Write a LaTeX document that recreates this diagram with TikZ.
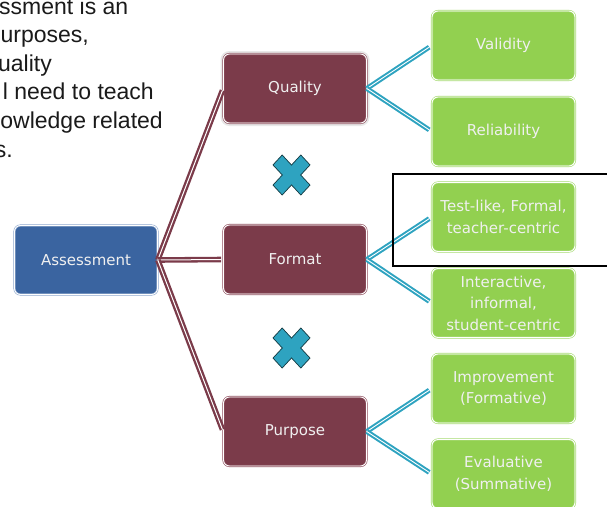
\documentclass[tikz,border=0pt]{standalone}
\usepackage{fontspec}
\setmainfont{Liberation Sans}
\newfontfamily\boxfont{DejaVu Sans}
\definecolor{bluebox}{HTML}{3A64A0}
\definecolor{bluerim}{HTML}{8FA8CC}
\definecolor{maroon}{HTML}{7B3B4A}
\definecolor{maroonrim}{HTML}{8E4F5E}
\definecolor{greenbox}{HTML}{92D050}
\definecolor{greenrim}{HTML}{A6DA72}
\definecolor{teal}{HTML}{2EA3C0}
\definecolor{tealdark}{HTML}{123840}
\definecolor{bodytext}{HTML}{1A1A1A}
\tikzset{
  basebox/.style={rounded corners=6pt, minimum width=143pt, minimum height=69pt,
    line width=0.6pt, double=white, double distance=0.9pt, align=center,
    text=white!94!black, font=\boxfont\fontsize{15}{21.5}\selectfont, inner sep=1pt},
  rootbox/.style={basebox, fill=bluebox, draw=bluerim},
  midbox/.style={basebox, fill=maroon, draw=maroonrim},
  leafbox/.style={basebox, fill=greenbox, draw=greenrim},
  halo/.style={preaction={draw=black!9, line width=6pt}},
  trunk/.style={draw=maroon, line width=2.3pt, double=white, double distance=1pt,
    shorten >=2pt},
  twig/.style={draw=teal, line width=2pt, double=white, double distance=0.9pt,
    shorten >=3pt},
  crossmark/.style={fill=teal, draw=tealdark, line width=0.7pt, line join=miter},
  bodyline/.style={anchor=base east, inner sep=0pt, text=bodytext,
    font=\fontsize{23}{27.6}\selectfont},
}
\begin{document}
\begin{tikzpicture}[x=1pt, y=-1pt]
\useasboundingbox (0,0) rectangle (607,506);

% text running in from the left margin
\node[bodyline] (t1) at (128.5,14) {ssment is an};
\node[bodyline] (t2) at (89,42.6) {urposes,};
\node[bodyline] (t3) at (52,71.2) {uality};
\node[bodyline] (t4) at (154,99.8) {l need to teach};
\node[bodyline] (t5) at (163,128.4) {owledge related};
\node[bodyline] (t6) at (13,157) {s.};

% hierarchy boxes
\node[rootbox] (assess) at (86,260) {Assessment};
\node[midbox, halo] (quality) at (295,88.5) {Quality};
\node[midbox] (format) at (295,259.5) {Format};
\node[midbox] (purpose) at (295,431.5) {Purpose};

\node[leafbox] (valid) at (503.5,45.5) {Validity};
\node[leafbox] (reliab) at (503.5,131.5) {Reliability};
\node[leafbox] (testlike) at (503.5,217) {Test-like, Formal,\\teacher-centric};
\node[leafbox] (interact) at (503.5,303) {Interactive,\\informal,\\student-centric};
\node[leafbox] (improve) at (503.5,388.5) {Improvement\\(Formative)};
\node[leafbox] (evalu) at (503.5,474) {Evaluative\\(Summative)};

% connectors
\draw[trunk] (assess.east) -- (quality.west);
\draw[trunk] (assess.east) -- (format.west);
\draw[trunk] (assess.east) -- (purpose.west);

\draw[twig] (quality.east) -- (valid.west);
\draw[twig] (quality.east) -- (reliab.west);
\draw[twig] (format.east) -- (testlike.west);
\draw[twig] (format.east) -- (interact.west);
\draw[twig] (purpose.east) -- (improve.west);
\draw[twig] (purpose.east) -- (evalu.west);

% multiplication marks between the categories
\foreach \cy/\nm in {175/crossA, 348/crossB}{
  \coordinate (\nm) at (291.5,\cy);
  \draw[crossmark, shift={(\nm)}, yscale=1.08, rotate=45]
    (6.5,6.5) -- (19.7,6.5) -- (19.7,-6.5) -- (6.5,-6.5) -- (6.5,-19.7)
    -- (-6.5,-19.7) -- (-6.5,-6.5) -- (-19.7,-6.5) -- (-19.7,6.5)
    -- (-6.5,6.5) -- (-6.5,19.7) -- (6.5,19.7) -- cycle;
}

% highlight frame around the first format option
\coordinate (frameA) at (393,174);
\coordinate (frameB) at (612,266);
\draw[black, line width=2.5pt] (frameA) rectangle (frameB);
\end{tikzpicture}
\end{document}
